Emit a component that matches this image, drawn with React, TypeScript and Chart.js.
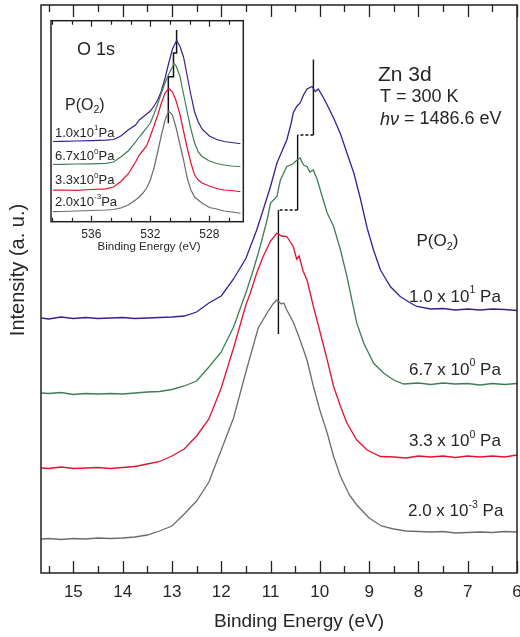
import React, { useEffect, useRef } from 'react';
import { Chart, registerables } from 'chart.js';
Chart.register(...registerables);

const FONT = "'Liberation Sans', Arial, Helvetica, sans-serif";
const TEXT = '#262626';

// ---------- Main panel: Zn 3d (binding energy eV, intensity a.u.) ----------
const xTickValues = [15, 14, 13, 12, 11, 10, 9, 8, 7, 6];
const xMin = 6;
const xMax = 15.656;
const yMax = 113.6;

const zn_2e_3: number[][] = [
  [15.65, 6.8], [15.5, 6.9], [15.25, 6.7], [15.0, 6.9], [14.75, 6.8], [14.5, 7.0], [14.25, 6.9], [14.0, 7.0],
  [13.75, 7.2], [13.5, 7.6], [13.25, 8.4], [13.0, 9.4], [12.75, 11.8], [12.5, 14.4], [12.25, 18.2], [12.0, 24.6],
  [11.75, 31.0], [11.5, 40.2], [11.25, 49.0], [11.07, 52.0], [10.95, 53.8], [10.87, 54.6], [10.78, 53.8],
  [10.73, 54.0], [10.67, 52.6], [10.53, 50.0], [10.4, 46.6], [10.26, 42.6], [10.13, 37.3], [10.0, 32.6],
  [9.85, 28.0], [9.72, 23.3], [9.58, 19.3], [9.4, 15.6], [9.25, 13.6], [9.0, 11.0], [8.75, 9.4], [8.5, 8.8],
  [8.25, 8.4], [8.0, 8.3], [7.75, 8.2], [7.5, 8.3], [7.25, 8.0], [7.0, 8.1], [6.75, 8.2], [6.5, 8.1], [6.25, 8.3], [6.0, 8.2],
];
const zn_3p3: number[][] = [
  [15.65, 21.0], [15.5, 20.9], [15.25, 21.2], [15.0, 20.9], [14.75, 21.0], [14.5, 21.1], [14.25, 20.9], [14.0, 21.1],
  [13.75, 21.3], [13.5, 21.8], [13.25, 22.3], [13.0, 23.4], [12.75, 24.8], [12.5, 27.4], [12.25, 30.8], [12.0, 37.0],
  [11.75, 45.0], [11.5, 53.6], [11.41, 56.0], [11.28, 60.0], [11.15, 63.3], [11.0, 66.4], [10.87, 68.0], [10.78, 67.4],
  [10.67, 67.3], [10.54, 65.3], [10.47, 62.8], [10.42, 63.4], [10.34, 60.4], [10.26, 58.6], [10.13, 53.3], [9.99, 48.0],
  [9.85, 42.6], [9.72, 37.3], [9.58, 33.3], [9.45, 30.0], [9.25, 26.6], [9.04, 24.6], [8.77, 23.3], [8.5, 23.2],
  [8.25, 23.0], [8.0, 23.4], [7.75, 23.2], [7.5, 23.4], [7.25, 23.1], [7.0, 23.4], [6.75, 23.2], [6.5, 23.4], [6.25, 23.2], [6.0, 23.6],
];
const zn_6p7: number[][] = [
  [15.65, 36.0], [15.5, 35.9], [15.25, 36.1], [15.0, 35.7], [14.75, 35.9], [14.5, 35.8], [14.25, 35.9], [14.0, 35.8],
  [13.75, 36.0], [13.5, 36.2], [13.25, 36.3], [13.0, 36.7], [12.75, 37.4], [12.5, 38.4], [12.25, 41.2], [12.0, 44.2],
  [11.75, 49.2], [11.48, 56.6], [11.35, 60.6], [11.21, 65.3], [11.07, 70.6], [11.0, 74.0], [10.87, 75.3], [10.8, 78.6],
  [10.67, 81.3], [10.55, 81.8], [10.46, 82.6], [10.4, 83.0], [10.33, 81.6], [10.26, 81.3], [10.2, 80.2], [10.13, 80.6],
  [10.05, 78.6], [9.99, 76.6], [9.85, 72.0], [9.72, 69.3], [9.58, 64.6], [9.45, 59.3], [9.35, 54.6], [9.25, 50.0],
  [9.11, 46.0], [8.91, 42.0], [8.71, 40.0], [8.5, 38.6], [8.3, 37.8], [8.0, 38.0], [7.75, 37.7], [7.5, 38.0],
  [7.25, 37.8], [7.0, 37.9], [6.75, 37.6], [6.5, 37.9], [6.25, 37.7], [6.0, 37.9],
];
const zn_1e1: number[][] = [
  [15.65, 51.0], [15.5, 50.8], [15.25, 51.2], [15.0, 50.9], [14.75, 51.1], [14.5, 50.9], [14.25, 51.0], [14.0, 51.1],
  [13.75, 50.9], [13.5, 51.0], [13.25, 51.1], [13.0, 51.2], [12.75, 51.4], [12.5, 52.2], [12.25, 54.0], [12.0, 55.4],
  [11.75, 58.8], [11.5, 62.9], [11.28, 68.6], [11.15, 72.6], [11.0, 77.3], [10.87, 82.0], [10.67, 86.6], [10.58, 90.0],
  [10.54, 92.0], [10.47, 93.3], [10.4, 94.0], [10.33, 95.6], [10.26, 96.8], [10.16, 97.3], [10.09, 96.3], [10.03, 96.8],
  [9.9, 94.6], [9.72, 91.0], [9.58, 87.8], [9.45, 84.0], [9.31, 80.0], [9.18, 75.0], [9.04, 69.0], [8.91, 64.6],
  [8.77, 60.6], [8.57, 57.3], [8.37, 55.3], [8.16, 54.0], [8.03, 53.3], [7.75, 52.8], [7.5, 52.9], [7.25, 52.6],
  [7.0, 52.8], [6.75, 52.6], [6.5, 52.8], [6.25, 52.7], [6.0, 52.5],
];
// peak-position staircase (eV) and its levels (a.u.)
const znPeakE = [10.13, 10.45, 10.84];
const znStepLevels = [102.7, 87.6, 72.6, 47.8];

// ---------- Inset: O 1s ----------
const oTickLabels = [536, 532, 528];
const oMin = 525.7;
const oMax = 538.73;
const oYMax = 100.5;

const o_2e_3: number[][] = [
  [538.6, 5.0], [538, 5.1], [537, 5.35], [536, 5.6], [535, 5.85], [534.5, 6.1], [534, 6.85], [533.5, 8.35],
  [533, 10.85], [532.75, 12.35], [532.5, 14.35], [532.25, 16.85], [532, 20.85], [531.75, 26.85], [531.5, 34.85],
  [531.25, 43.35], [531, 50.85], [530.75, 55.35], [530.5, 53.35], [530.25, 46.85], [530, 38.85], [529.75, 30.85],
  [529.5, 21.85], [529.25, 15.85], [529, 12.35], [528.75, 10.85], [528.5, 9.35], [528, 7.1], [527.5, 6.35],
  [527, 5.35], [526.5, 4.85], [526, 4.35], [525.9, 4.2],
];
const o_3p3: number[][] = [
  [538.6, 15.75], [538, 15.85], [537, 15.7], [536, 16.1], [535, 16.45], [534.5, 17.35], [534, 20.1], [533.5, 23.85],
  [533, 29.85], [532.75, 33.35], [532.5, 35.6], [532.25, 37.85], [532, 42.85], [531.75, 47.85], [531.5, 53.35],
  [531.25, 59.35], [531, 64.35], [530.75, 66.6], [530.5, 64.85], [530.25, 60.35], [530, 53.85], [529.75, 45.35],
  [529.5, 36.85], [529.25, 29.35], [529, 23.35], [528.75, 20.85], [528.5, 19.35], [528, 17.85], [527.5, 16.6],
  [527, 15.85], [526.5, 15.6], [526, 15.1], [525.9, 15.1],
];
const o_6p7: number[][] = [
  [538.6, 28.6], [538, 28.7], [537, 28.85], [536, 28.95], [535, 29.2], [534.5, 29.85], [534, 32.35], [533.5, 35.35],
  [533, 39.85], [532.75, 42.35], [532.5, 44.6], [532.25, 46.85], [532, 49.35], [531.75, 53.85], [531.5, 58.85],
  [531.25, 64.35], [531, 69.35], [530.75, 73.85], [530.5, 77.35], [530.4, 79.2], [530.25, 77.85], [530, 72.85],
  [529.75, 63.85], [529.5, 54.85], [529.25, 46.35], [529, 39.35], [528.75, 34.85], [528.5, 32.6], [528, 30.35],
  [527.5, 29.1], [527, 28.35], [526.5, 27.85], [526, 27.6], [525.9, 27.6],
];
const o_1e1: number[][] = [
  [538.6, 40.1], [538, 40.2], [537, 40.35], [536, 40.5], [535, 40.75], [534.5, 41.1], [534, 42.85], [533.5, 45.85],
  [533, 48.35], [532.75, 50.85], [532.5, 52.35], [532.25, 53.85], [532, 55.35], [531.75, 57.85], [531.5, 60.85],
  [531.25, 65.35], [531, 71.85], [530.75, 79.35], [530.5, 86.35], [530.22, 90.6], [530, 87.85], [529.75, 82.35],
  [529.5, 72.85], [529.25, 63.35], [529, 54.85], [528.75, 49.85], [528.5, 46.35], [528, 42.85], [527.5, 41.1],
  [527, 40.1], [526.5, 39.6], [526, 39.1], [525.9, 39.1],
];
const oPeakE = [530.22, 530.43, 530.78];
const oStepLevels = [95.85, 84.35, 72.5, 49.2];

const COLORS = { p10: '#3b1e94', p6: '#3f7e55', p3: '#e5112e', p0: '#6c6c6c' };

const toXY = (arr: number[][]) => arr.map(([x, y]) => ({ x, y }));
function staircase(peaks: number[], levels: number[]) {
  const pts: { x: number; y: number }[] = [];
  peaks.forEach((e, i) => {
    pts.push({ x: e, y: levels[i] });
    pts.push({ x: e, y: levels[i + 1] });
  });
  return pts;
}

type Part = { t: string; s?: number; dy?: number; it?: boolean };
function drawParts(ctx: CanvasRenderingContext2D, x: number, y: number, parts: Part[], base: number) {
  let cx = x;
  for (const p of parts) {
    const size = p.s ?? base;
    ctx.font = `${p.it ? 'italic ' : ''}${size}px ${FONT}`;
    ctx.fillText(p.t, cx, y + (p.dy ?? 0));
    cx += ctx.measureText(p.t).width;
  }
}
const pressure = (mant: string, exp: string, base: number, spaced: boolean): Part[] => [
  { t: spaced ? `${mant} x 10` : `${mant}x10` },
  { t: exp, s: base * 0.62, dy: -base * 0.38 },
  { t: spaced ? ' Pa' : 'Pa' },
];

const mainDecor = {
  id: 'mainDecor',
  afterDraw(chart: any) {
    const { ctx, chartArea: a, scales } = chart;
    const xs = scales.x;
    ctx.save();
    ctx.strokeStyle = '#222';
    ctx.lineWidth = 1.3;
    for (let v = xMin; v <= 15.5 + 1e-9; v += 0.5) {
      const px = Math.round(xs.getPixelForValue(v)) + 0.5;
      const len = Math.abs(v - Math.round(v)) < 1e-6 ? 12 : 7;
      ctx.beginPath();
      ctx.moveTo(px, a.bottom);
      ctx.lineTo(px, a.bottom - len);
      ctx.moveTo(px, a.top);
      ctx.lineTo(px, a.top + len);
      ctx.stroke();
    }
    ctx.lineWidth = 1.5;
    ctx.strokeRect(a.left, a.top, a.right - a.left, a.bottom - a.top);

    ctx.fillStyle = TEXT;
    ctx.textBaseline = 'middle';
    // axis titles
    ctx.font = `19px ${FONT}`;
    ctx.textAlign = 'center';
    ctx.fillText('Binding Energy (eV)', 299, 621.5);
    ctx.save();
    ctx.translate(18, 270);
    ctx.rotate(-Math.PI / 2);
    ctx.font = `20px ${FONT}`;
    ctx.fillText('Intensity (a. u.)', 0, 0);
    ctx.restore();
    ctx.textAlign = 'left';
    // header
    drawParts(ctx, 378, 75, [{ t: 'Zn 3d' }], 21);
    drawParts(ctx, 380, 97.5, [{ t: 'T = 300 K' }], 18);
    drawParts(ctx, 380, 119.5, [{ t: 'hν', it: true }, { t: ' = 1486.6 eV' }], 18);
    // pressure labels
    drawParts(ctx, 416.5, 241.5, [{ t: 'P(O' }, { t: '2', s: 11, dy: 5 }, { t: ')' }], 17);
    drawParts(ctx, 409, 297, pressure('1.0', '1', 17, true), 17);
    drawParts(ctx, 409, 370, pressure('6.7', '0', 17, true), 17);
    drawParts(ctx, 409, 441.5, pressure('3.3', '0', 17, true), 17);
    drawParts(ctx, 408, 511.5, pressure('2.0', '-3', 17, true), 17);
    ctx.restore();
  },
};

const insetDecor = {
  id: 'insetDecor',
  beforeDraw(chart: any) {
    const { ctx, chartArea: a } = chart;
    ctx.save();
    ctx.fillStyle = '#fff';
    ctx.fillRect(a.left, a.top, a.right - a.left, a.bottom - a.top);
    ctx.restore();
  },
  afterDraw(chart: any) {
    const { ctx, chartArea: a, scales } = chart;
    const xs = scales.x;
    ctx.save();
    ctx.strokeStyle = '#222';
    ctx.lineWidth = 1.2;
    for (let k = -1; k <= 8; k++) {
      const v = 528 + (k * 4) / 3;
      if (v < oMin || v > oMax) continue;
      const px = Math.round(xs.getPixelForValue(v)) + 0.5;
      const len = k % 3 === 0 ? 6 : 4;
      ctx.beginPath();
      ctx.moveTo(px, a.bottom);
      ctx.lineTo(px, a.bottom - len);
      ctx.moveTo(px, a.top);
      ctx.lineTo(px, a.top + len);
      ctx.stroke();
    }
    ctx.lineWidth = 1.5;
    ctx.strokeRect(a.left, a.top, a.right - a.left, a.bottom - a.top);

    ctx.fillStyle = TEXT;
    ctx.textBaseline = 'middle';
    ctx.textAlign = 'center';
    ctx.font = `11.5px ${FONT}`;
    ctx.fillText('Binding Energy (eV)', 149, 246.5);
    ctx.textAlign = 'left';
    drawParts(ctx, 77, 50, [{ t: 'O 1s' }], 18);
    drawParts(ctx, 65, 106, [{ t: 'P(O' }, { t: '2', s: 10.5, dy: 4.5 }, { t: ')' }], 16);
    drawParts(ctx, 55, 133, pressure('1.0', '1', 13, false), 13);
    drawParts(ctx, 55, 156.5, pressure('6.7', '0', 13, false), 13);
    drawParts(ctx, 55, 180.5, pressure('3.3', '0', 13, false), 13);
    drawParts(ctx, 55, 202, pressure('2.0', '-3', 13, false), 13);
    ctx.restore();
  },
};

function lineDs(data: number[][], color: string, width: number) {
  return { data: toXY(data), borderColor: color, borderWidth: width, pointRadius: 0, fill: false, tension: 0 };
}
function stepDs(pts: { x: number; y: number }[], width: number, dashed: boolean) {
  return {
    data: pts,
    borderColor: '#111',
    borderWidth: width,
    pointRadius: 0,
    fill: false,
    tension: 0,
    segment: {
      borderDash: (c: any) => (dashed && c.p0.parsed.y === c.p1.parsed.y ? [3, 2] : undefined),
    },
  };
}

function zeroPad(s: any) {
  s.paddingLeft = 0;
  s.paddingRight = 0;
}

export default function App() {
  const mainRef = useRef<HTMLCanvasElement>(null);
  const insetRef = useRef<HTMLCanvasElement>(null);

  useEffect(() => {
    const main = new Chart(mainRef.current as HTMLCanvasElement, {
      type: 'line',
      data: {
        datasets: [
          lineDs(zn_2e_3, COLORS.p0, 1.3),
          lineDs(zn_3p3, COLORS.p3, 1.3),
          lineDs(zn_6p7, COLORS.p6, 1.3),
          lineDs(zn_1e1, COLORS.p10, 1.3),
          stepDs(staircase(znPeakE, znStepLevels), 1.4, true),
        ] as any,
      },
      options: {
        animation: false,
        responsive: false,
        devicePixelRatio: 1,
        layout: { padding: { left: 0, right: 3, top: 5, bottom: 0 } },
        plugins: { legend: { display: false }, tooltip: { enabled: false } },
        scales: {
          x: {
            type: 'linear',
            min: xMin,
            max: xMax,
            reverse: true,
            grid: { display: false, drawTicks: false },
            border: { display: false },
            ticks: { font: { family: FONT, size: 17 }, color: TEXT, padding: 9, autoSkip: false, maxRotation: 0 },
            afterBuildTicks: (s: any) => {
              s.ticks = xTickValues.map((v) => ({ value: v }));
            },
            afterFit: (s: any) => {
              s.height = 64;
              zeroPad(s);
            },
          },
          y: {
            type: 'linear',
            min: 0,
            max: yMax,
            grid: { display: false, drawTicks: false },
            border: { display: false },
            ticks: { display: false },
            afterFit: (s: any) => {
              s.width = 41;
            },
          },
        },
      } as any,
      plugins: [mainDecor],
    });

    const inset = new Chart(insetRef.current as HTMLCanvasElement, {
      type: 'line',
      data: {
        datasets: [
          lineDs(o_2e_3, COLORS.p0, 1.2),
          lineDs(o_3p3, COLORS.p3, 1.2),
          lineDs(o_6p7, COLORS.p6, 1.2),
          lineDs(o_1e1, COLORS.p10, 1.2),
          stepDs(staircase(oPeakE, oStepLevels), 1.5, false),
        ] as any,
      },
      options: {
        animation: false,
        responsive: false,
        devicePixelRatio: 1,
        layout: { padding: { left: 51, right: 16.7, top: 20.7, bottom: 0 } },
        plugins: { legend: { display: false }, tooltip: { enabled: false } },
        scales: {
          x: {
            type: 'linear',
            min: oMin,
            max: oMax,
            reverse: true,
            grid: { display: false, drawTicks: false },
            border: { display: false },
            ticks: { font: { family: FONT, size: 12 }, color: TEXT, padding: 6, autoSkip: false, maxRotation: 0 },
            afterBuildTicks: (s: any) => {
              s.ticks = oTickLabels.map((v) => ({ value: v }));
            },
            afterFit: (s: any) => {
              s.height = 38.3;
              zeroPad(s);
            },
          },
          y: { type: 'linear', min: 0, max: oYMax, display: false },
        },
      } as any,
      plugins: [insetDecor],
    });

    return () => {
      main.destroy();
      inset.destroy();
    };
  }, []);

  return (
    <div style={{ position: 'absolute', left: 0, top: 0, width: 520, height: 637, background: '#fff' }}>
      <canvas ref={mainRef} width={520} height={637} style={{ position: 'absolute', left: 0, top: 0 }} />
      <canvas ref={insetRef} width={260} height={260} style={{ position: 'absolute', left: 0, top: 0 }} />
    </div>
  );
}
